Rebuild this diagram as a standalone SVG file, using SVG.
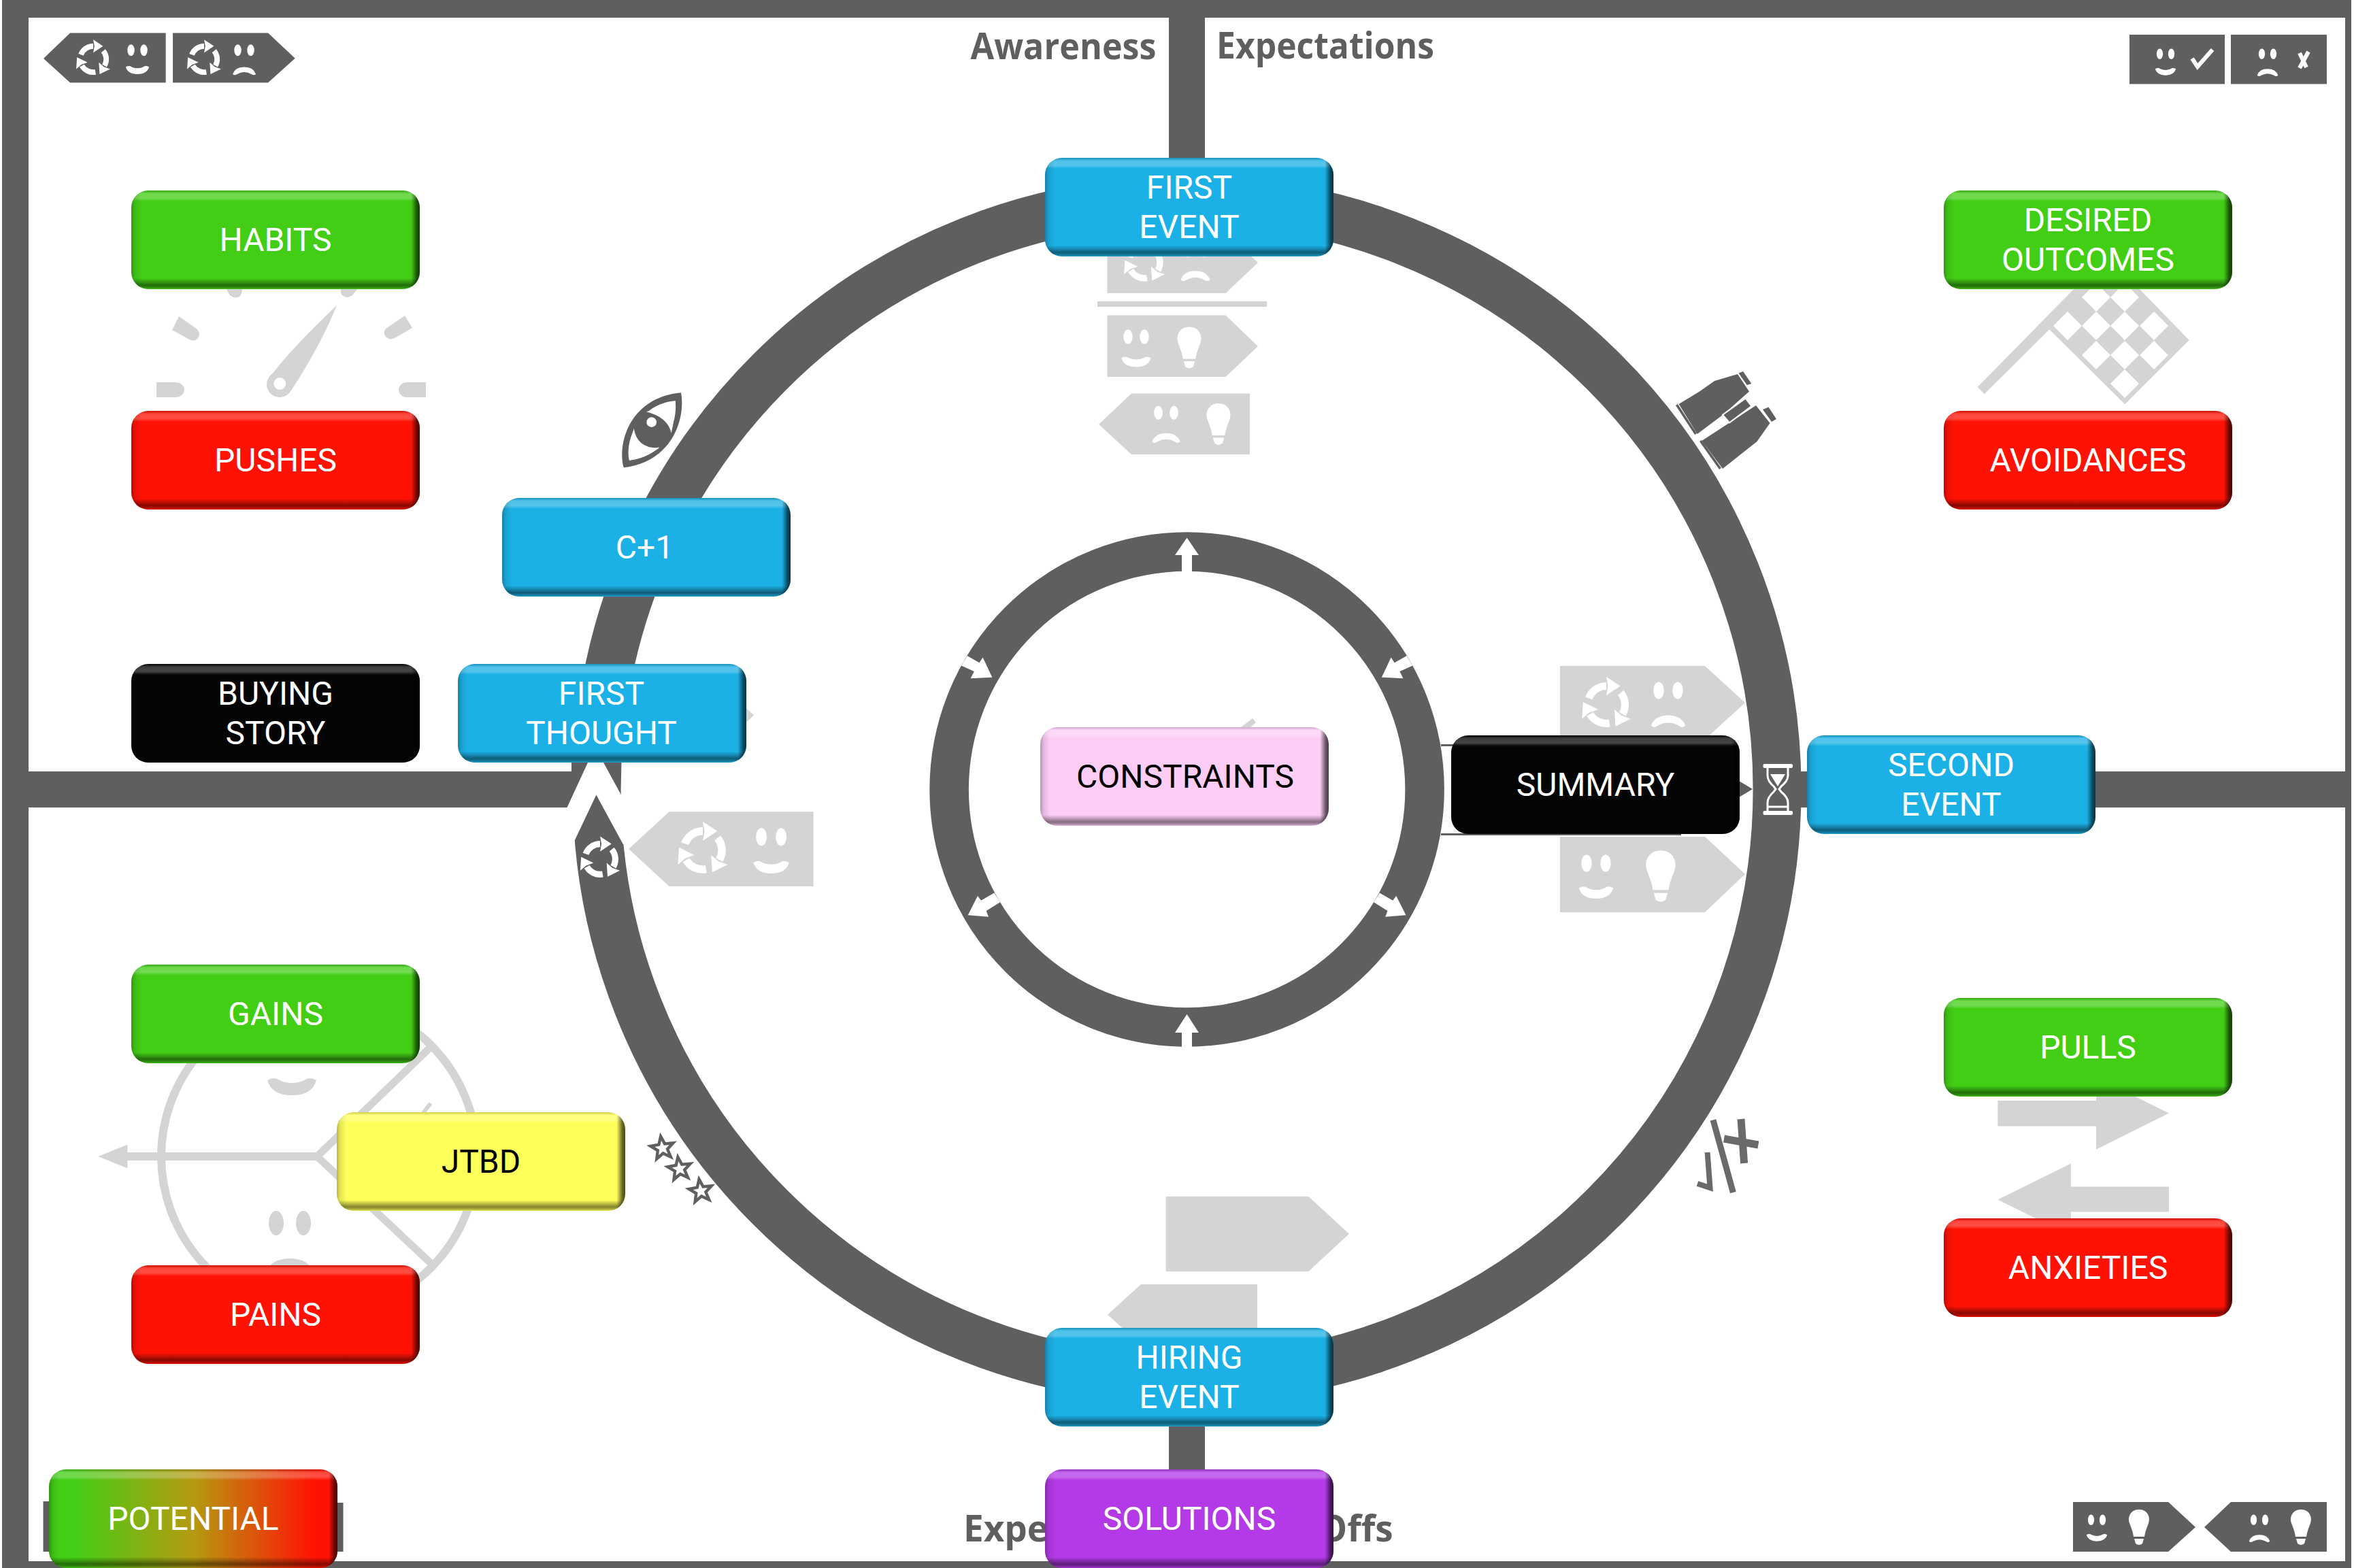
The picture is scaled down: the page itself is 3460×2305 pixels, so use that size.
<svg xmlns="http://www.w3.org/2000/svg" xmlns:xlink="http://www.w3.org/1999/xlink" width="3460" height="2305" viewBox="0 0 3460 2305">
<style>
.d{fill:#5f5f5f}.l{fill:#d4d4d4}.w{fill:#fff}
.blue{fill:#1cb1e6}.green{fill:#43ce16}.red{fill:#ff1204}.blk{fill:#050505}.pink{fill:#fdcdf6}.yel{fill:#ffff5c}.pur{fill:#b43ae8}
text{font-family:Roboto,"Liberation Sans",sans-serif;font-size:48px;text-anchor:middle}
.tw{fill:#fff}.tk{fill:#000}
text.h{font-family:"Open Sans","Liberation Sans",sans-serif;font-size:53px;font-weight:700;fill:#5f5f5f;text-anchor:start}
</style>
<defs>
<linearGradient id="gv" x1="0" y1="0" x2="0" y2="1">
<stop offset="0" stop-color="#000" stop-opacity=".18"/><stop offset=".03" stop-color="#fff" stop-opacity=".22"/><stop offset=".075" stop-color="#fff" stop-opacity=".26"/><stop offset=".11" stop-color="#fff" stop-opacity="0"/><stop offset=".89" stop-color="#000" stop-opacity="0"/><stop offset=".96" stop-color="#000" stop-opacity=".48"/><stop offset=".985" stop-color="#000" stop-opacity=".3"/><stop offset="1" stop-color="#000" stop-opacity=".08"/>
</linearGradient>
<linearGradient id="gh" x1="0" y1="0" x2="1" y2="0">
<stop offset="0" stop-color="#000" stop-opacity=".28"/><stop offset=".012" stop-color="#000" stop-opacity=".1"/><stop offset=".035" stop-color="#000" stop-opacity="0"/><stop offset=".97" stop-color="#000" stop-opacity="0"/><stop offset=".99" stop-color="#000" stop-opacity=".6"/><stop offset="1" stop-color="#000" stop-opacity=".7"/>
</linearGradient>
<linearGradient id="gpot" x1="0" y1="0" x2="1" y2="0">
<stop offset=".08" stop-color="#43ce16"/><stop offset=".5" stop-color="#b59a10"/><stop offset=".92" stop-color="#ff1204"/>
</linearGradient>
<g id="bevel"><rect width="424" height="145" rx="25" fill="url(#gv)"/><rect width="424" height="145" rx="25" fill="url(#gh)"/></g>
<g id="cyc1"><path d="M-30,-11A32,32 0 0 1 0,-32" fill="none" stroke="#fff" stroke-width="13"/><polygon points="24,-32 0,-48 3,-32 0,-16" fill="#fff"/></g>
<g id="cyc"><use href="#cyc1"/><use href="#cyc1" transform="rotate(120)"/><use href="#cyc1" transform="rotate(240)"/></g>
<g id="smile"><ellipse cx="-10" cy="-15" rx="5.5" ry="9"/><ellipse cx="10" cy="-15" rx="5.5" ry="9"/><path d="M-18,11Q-13,8 -9,11Q0,15 9,11Q13,8 18,11Q15,22 0,22Q-15,22 -18,11Z"/></g>
<g id="frown"><ellipse cx="-10" cy="-15" rx="5.5" ry="9"/><ellipse cx="10" cy="-15" rx="5.5" ry="9"/><path d="M-18,22Q-14,11 0,11Q14,11 18,22Q15,25 11,22Q0,16 -11,22Q-15,25 -18,22Z"/></g>
<g id="bulb"><path d="M0,-26C-13,-26 -17,-14 -14,-6C-12,0 -9,6 -8,14L8,14C9,6 12,0 14,-6C17,-14 13,-26 0,-26Z"/><path d="M-7,17L7,17L5,24Q0,28 -5,24Z"/></g>
<polygon id="star" points="0,-20 5,-6.9 19,-6.2 8.1,2.6 11.8,16.2 0,8.5 -11.8,16.2 -8.1,2.6 -19,-6.2 -5,-6.9" fill="#fff" stroke="#5f5f5f" stroke-width="5" stroke-linejoin="miter"/>
</defs>
<rect width="3460" height="2305" fill="#fff"/>

<g id="connectors">
<rect class="d" x="3" y="0" width="3453" height="26"/>
<rect class="d" x="3" y="0" width="39" height="2305"/>
<rect class="d" x="3447" y="0" width="9" height="2305"/>
<rect class="d" x="3" y="2295" width="3453" height="10"/>
<rect class="d" x="1718" y="20" width="53" height="260"/>
<rect class="d" x="1718" y="2050" width="53" height="130"/>
<rect class="d" x="40" y="1134" width="820" height="53"/>
<rect class="d" x="2620" y="1134" width="830" height="53"/>
<rect class="d" x="840" y="1121" width="30" height="20"/>
<circle cx="1744.6" cy="1160.5" r="867.5" fill="none" stroke="#5f5f5f" stroke-width="71"/>
<polygon class="w" points="864,1121 833.5,1187 830,1239 843,1239 876.4,1168.5 915.8,1241 930,1241 930,1168.5 913,1168.5 887,1121"/>
<circle cx="1744.6" cy="1160.5" r="349.5" fill="none" stroke="#5f5f5f" stroke-width="57.5"/>
<polygon class="w" points="1737,845 1737,816 1727,816 1744.6,790.6 1762,816 1752,816 1752,845"/>
<polygon class="w" points="1737,1545 1737,1518 1727,1518 1744.6,1491 1762,1518 1752,1518 1752,1545"/>
<polygon class="w" points="1421.6,964 1439.5,974.3 1444.6,966.6 1458.4,995.7 1426.7,997.2 1431.8,987 1413,978.4"/>
<polygon class="w" points="2067.6,964 2049.7,974.3 2044.6,966.6 2030.8,995.7 2062.5,997.2 2057.4,987 2076.2,978.4"/>
<polygon class="w" points="1461.4,1312.6 1470,1326.3 1449.7,1339 1453,1347.8 1422.7,1345.2 1437,1317 1442,1323.8"/>
<polygon class="w" points="2027.8,1312.6 2019.2,1326.3 2039.5,1339 2036.2,1347.8 2066.5,1345.2 2052.2,1317 2047.2,1323.8"/>
<rect class="d" x="2118" y="1094" width="30" height="3"/>
<rect class="d" x="2118" y="1225" width="353" height="3"/>
<polygon class="d" points="2556,1148 2576,1160 2556,1172"/>
<rect class="d" x="63.5" y="2207" width="20" height="74"/>
<rect class="d" x="485" y="2209" width="19.5" height="72"/>
</g>

<g id="legend-top-left">
<polygon class="d" points="64,86 103,48.5 243.6,48.5 243.6,121.5 103,121.5"/>
<polygon class="d" points="254,48.5 394,48.5 433.7,85.7 394,121.5 254,121.5"/>
<use href="#cyc" transform="translate(137,87) scale(.6)"/><use href="#smile" class="w" transform="translate(202,88) scale(.95)"/>
<use href="#cyc" transform="translate(300,87) scale(.6)"/><use href="#frown" class="w" transform="translate(359,88) scale(.95)"/>
</g>
<g id="legend-top-right">
<rect class="d" x="3130" y="51" width="140" height="72.5"/><rect class="d" x="3279" y="51" width="141" height="72.5"/>
<use href="#smile" class="w" transform="translate(3183,92) scale(.85)"/>
<path d="M3222,86L3230,98L3252,73" fill="none" stroke="#fff" stroke-width="6"/>
<use href="#frown" class="w" transform="translate(3333,92) scale(.85)"/>
<path d="M3380,78L3390,99M3393,76L3380,100" fill="none" stroke="#fff" stroke-width="6"/>
</g>
<g id="legend-bottom-right">
<polygon class="d" points="3047,2208 3187,2208 3227,2245 3187,2281 3047,2281"/>
<polygon class="d" points="3240,2245 3279,2208 3420,2208 3420,2281 3279,2281"/>
<use href="#smile" class="w" transform="translate(3082,2247) scale(.85)"/><use href="#bulb" class="w" transform="translate(3144,2245)"/>
<use href="#frown" class="w" transform="translate(3321,2247) scale(.85)"/><use href="#bulb" class="w" transform="translate(3382,2245)"/>
</g>

<g id="gauge" class="l">
<path d="M230,562H258a13,11 0 0 1 0,22H230Z"/><path d="M626,562H598a12,11 0 0 0 0,22H626Z"/>
<path d="M263,465L290,484Q296,492 290,498Q285,503 278,499L253,485Z"/><path d="M595,464L606,482L580,497Q572,501 566,494Q562,486 570,481Z"/>
<path d="M332,424L338,434Q345,440 352,436Q356,432 356,424Z"/><path d="M526,424L518,434Q510,440 503,434Q500,430 501,424Z"/>
<path d="M495,449Q430,510 396,555L428,574Q470,510 495,449Z"/><circle cx="411" cy="565" r="19"/><ellipse class="w" cx="411.3" cy="564" rx="9" ry="9"/>
</g>
<g id="flag">
<polygon class="l" points="2906.7,569 3053,420 3140,420 3217.7,500 3123.3,594.3 3012.3,484.3 2916.7,579.3"/>
<path class="w" d="M3018,479L3039,458L3060,479L3039,500ZM3060,479L3081,458L3102,479L3081,500ZM3102,479L3123,458L3144,479L3123,500ZM3145,479L3166,458L3187,479L3166,500ZM3060,522L3081,501L3102,522L3081,543ZM3102,522L3123,501L3144,522L3123,543ZM3145,522L3166,501L3187,522L3166,543ZM3102,564L3123,543L3144,564L3123,585ZM3060,437L3081,416L3102,437L3081,458ZM3102,437L3123,416L3144,437L3123,458Z"/>
</g>
<g id="eye" transform="translate(890,560) scale(.3333)">
<path class="d" fill-rule="evenodd" d="M80,382C50,260 120,70 333,52C355,170 290,360 80,382ZM105,350C85,260 150,100 308,88C320,190 260,335 105,350Z"/>
<circle class="d" cx="207" cy="215" r="82"/><path class="w" d="M180,136Q250,120 308,88Q305,170 290,230Q275,160 180,136Z"/><path class="w" d="M105,350Q170,345 238,295Q140,300 125,210Q100,290 105,350Z"/><circle class="w" cx="203" cy="182" r="22"/>
</g>
<g id="binoculars" class="d">
<polygon points="2467.6,594 2498,575.5 2520,560 2554,550 2571,575.5 2532,610 2494.7,638"/>
<polygon points="2463,596 2466,594 2494,637 2491,639"/>
<polygon points="2501.4,648 2581,596 2601.5,622 2582.5,649 2561,666 2532,689"/>
<polygon points="2498,649 2501,647 2530,688 2527,690"/>
<polygon points="2555.5,548.5 2562,546 2574.4,564 2567.7,566"/>
<polygon points="2591,602 2599.5,598.5 2611,616 2604,620"/>
<path d="M2495,643L2535,614" fill="none" stroke="#fff" stroke-width="6"/>
<polygon points="2532,609.7 2565.6,585.7 2574.4,597 2542,621.4" stroke="#fff" stroke-width="2"/>
</g>
<g id="stars"><use href="#star" transform="translate(973.6,1688) rotate(-8) scale(.88)"/><use href="#star" transform="translate(998.8,1718.4) rotate(-8) scale(.88)"/><use href="#star" transform="translate(1030,1751) rotate(-8) scale(.88)"/></g>
<g id="tradeoff" fill="none" stroke="#6a6a6a">
<path d="M2518,1646.4L2547.4,1753" stroke-width="9"/>
<path d="M2559,1645L2563.6,1710M2534,1674L2584.4,1683" stroke-width="11"/>
<path d="M2509.6,1694L2513.5,1746L2495,1740" stroke-width="8"/>
</g>
<g id="target">
<circle cx="469" cy="1700" r="232" fill="none" stroke="#d4d4d4" stroke-width="12"/>
<rect class="l" x="187" y="1694" width="280" height="12"/>
<polygon class="l" points="144.5,1700 187.4,1682.4 187.4,1717.6"/>
<path d="M637.5,1534.7L466,1700L637.5,1861" fill="none" stroke="#d4d4d4" stroke-width="11"/>
<path d="M633,1622L622,1636" fill="none" stroke="#d4d4d4" stroke-width="6"/>
<use href="#smile" class="l" transform="translate(429,1566) scale(2)"/>
<use href="#frown" class="l" transform="translate(426,1828) scale(2)"/>
</g>
<g id="pull-arrows" class="l">
<polygon points="2936.4,1618 3081,1618 3081,1583.5 3188,1636.6 3081,1689.7 3081,1655.6 2936.4,1655.6"/>
<polygon points="2936.4,1763.5 3043.8,1710.4 3043.8,1744.5 3188,1744.5 3188,1781.4 3043.8,1781.4 3043.8,1816.6"/>
</g>
<g id="first-event-tags">
<polygon class="l" points="1627.5,341 1801.5,341 1849,386 1801.5,431 1627.5,431"/>
<use href="#cyc" transform="translate(1682,386) scale(.72)"/><use href="#frown" class="w" transform="translate(1757,385) scale(1.2)"/>
<rect class="l" x="1613" y="443" width="249" height="8"/>
<polygon class="l" points="1627.5,463.4 1801.5,463.4 1849,509 1801.5,554 1627.5,554"/>
<use href="#smile" class="w" transform="translate(1670,513) scale(1.2)"/><use href="#bulb" class="w" transform="translate(1748,511) scale(1.17)"/>
<polygon class="l" points="1615,623.7 1663,578.6 1837,578.6 1837,668 1663,668"/>
<use href="#frown" class="w" transform="translate(1714,624) scale(1.15)"/><use href="#bulb" class="w" transform="translate(1791,623.5) scale(1.17)"/>
</g>
<g id="first-thought-tags">
<polygon class="l" points="1085,1030 1108,1051.6 1085,1073"/>
<polygon class="l" points="924,1248 983.6,1193.3 1195.6,1193.3 1195.6,1303 983.6,1303"/>
<use href="#cyc" transform="translate(1033,1250) scale(.88)"/><use href="#smile" class="w" transform="translate(1133.6,1252) scale(1.45)"/>
<use href="#cyc" transform="translate(882,1263) scale(.7)"/>
</g>
<g id="summary-tags">
<polygon class="l" points="2293,979 2506,979 2565,1033 2506,1087 2293,1087"/>
<use href="#cyc" transform="translate(2361,1036) scale(.86)"/><use href="#frown" class="w" transform="translate(2452,1036) scale(1.4)"/>
<polygon class="l" points="2293,1230 2506,1230 2565,1285 2506,1341 2293,1341"/>
<use href="#smile" class="w" transform="translate(2346,1290) scale(1.4)"/><use href="#bulb" class="w" transform="translate(2441,1288) scale(1.45)"/>
</g>
<g id="hourglass">
<rect class="w" x="2591.5" y="1123" width="43.5" height="6" rx="2"/><rect class="w" x="2591.5" y="1192" width="43.5" height="6" rx="2"/>
<path d="M2598,1129V1140Q2598,1148 2607,1156L2610,1160L2607,1164Q2598,1172 2598,1180V1192M2628,1129V1140Q2628,1148 2618,1156L2615,1160L2618,1164Q2628,1172 2628,1180V1192M2598,1186H2628" fill="none" stroke="#fff" stroke-width="3"/>
<polygon class="w" points="2602,1138 2624,1138 2613,1156"/>
</g>
<g id="hiring-tags" class="l">
<polygon points="1713.7,1759 1923.4,1759 1983,1813.8 1923.4,1869 1713.7,1869"/>
<polygon points="1628,1932.6 1677,1887.9 1848,1887.9 1848,1977 1677,1977"/>
</g>
<polygon id="constraints-shadow" class="l" points="1841,1056 1846,1062 1835,1072 1820,1072"/>

<g id="labels">
<text class="h" x="1426.5" y="87" textLength="273" lengthAdjust="spacingAndGlyphs">Awareness</text>
<text class="h" x="1788" y="86" textLength="320" lengthAdjust="spacingAndGlyphs">Expectations</text>
<text class="h" x="1416" y="2266">Expe</text>
<text class="h" x="1938" y="2266">Offs</text>
</g>

<g id="node-habits"><rect class="green" x="193" y="280" width="424" height="145" rx="25"/><use href="#bevel" x="193" y="280"/><text class="tw" x="405" y="369">HABITS</text></g>
<g id="node-pushes"><rect class="red" x="193" y="604" width="424" height="145" rx="25"/><use href="#bevel" x="193" y="604"/><text class="tw" x="405" y="693">PUSHES</text></g>
<g id="node-buying-story"><rect class="blk" x="193" y="976" width="424" height="145" rx="25"/><use href="#bevel" x="193" y="976"/><text class="tw" x="405" y="1036">BUYING</text><text class="tw" x="405" y="1094">STORY</text></g>
<g id="node-gains"><rect class="green" x="193" y="1418" width="424" height="145" rx="25"/><use href="#bevel" x="193" y="1418"/><text class="tw" x="405" y="1507">GAINS</text></g>
<g id="node-pains"><rect class="red" x="193" y="1860" width="424" height="145" rx="25"/><use href="#bevel" x="193" y="1860"/><text class="tw" x="405" y="1949">PAINS</text></g>
<g id="node-jtbd"><rect class="yel" x="495" y="1635" width="424" height="145" rx="25"/><use href="#bevel" x="495" y="1635"/><text class="tk" x="707" y="1724">JTBD</text></g>
<g id="node-potential"><rect fill="url(#gpot)" x="72" y="2160" width="424" height="145" rx="25"/><use href="#bevel" x="72" y="2160"/><text class="tw" x="284" y="2249">POTENTIAL</text></g>
<g id="node-c1"><rect class="blue" x="738" y="732" width="424" height="145" rx="25"/><use href="#bevel" x="738" y="732"/><text class="tw" x="947.5" y="821">C+1</text></g>
<g id="node-first-thought"><rect class="blue" x="673" y="976" width="424" height="145" rx="25"/><use href="#bevel" x="673" y="976"/><text class="tw" x="884" y="1036">FIRST</text><text class="tw" x="884" y="1094">THOUGHT</text></g>
<g id="node-first-event"><rect class="blue" x="1536" y="232" width="424" height="145" rx="25"/><use href="#bevel" x="1536" y="232"/><text class="tw" x="1748" y="292">FIRST</text><text class="tw" x="1748" y="350">EVENT</text></g>
<g id="node-hiring-event"><rect class="blue" x="1536" y="1952" width="424" height="145" rx="25"/><use href="#bevel" x="1536" y="1952"/><text class="tw" x="1748" y="2012">HIRING</text><text class="tw" x="1748" y="2070">EVENT</text></g>
<g id="node-solutions"><rect class="pur" x="1536" y="2160" width="424" height="145" rx="25"/><use href="#bevel" x="1536" y="2160"/><text class="tw" x="1748" y="2249">SOLUTIONS</text></g>
<g id="node-constraints"><rect class="pink" x="1529" y="1069" width="424" height="145" rx="25"/><use href="#bevel" x="1529" y="1069"/><text class="tk" x="1742" y="1158">CONSTRAINTS</text></g>
<g id="node-summary"><rect class="blk" x="2133" y="1081" width="424" height="145" rx="25"/><use href="#bevel" x="2133" y="1081"/><text class="tw" x="2345" y="1170">SUMMARY</text></g>
<g id="node-second-event"><rect class="blue" x="2656" y="1081" width="424" height="145" rx="25"/><use href="#bevel" x="2656" y="1081"/><text class="tw" x="2868" y="1141">SECOND</text><text class="tw" x="2868" y="1199">EVENT</text></g>
<g id="node-desired-outcomes"><rect class="green" x="2857" y="280" width="424" height="145" rx="25"/><use href="#bevel" x="2857" y="280"/><text class="tw" x="3069" y="340">DESIRED</text><text class="tw" x="3069" y="398">OUTCOMES</text></g>
<g id="node-avoidances"><rect class="red" x="2857" y="604" width="424" height="145" rx="25"/><use href="#bevel" x="2857" y="604"/><text class="tw" x="3069" y="693">AVOIDANCES</text></g>
<g id="node-pulls"><rect class="green" x="2857" y="1467" width="424" height="145" rx="25"/><use href="#bevel" x="2857" y="1467"/><text class="tw" x="3069" y="1556">PULLS</text></g>
<g id="node-anxieties"><rect class="red" x="2857" y="1791" width="424" height="145" rx="25"/><use href="#bevel" x="2857" y="1791"/><text class="tw" x="3069" y="1880">ANXIETIES</text></g>
</svg>
